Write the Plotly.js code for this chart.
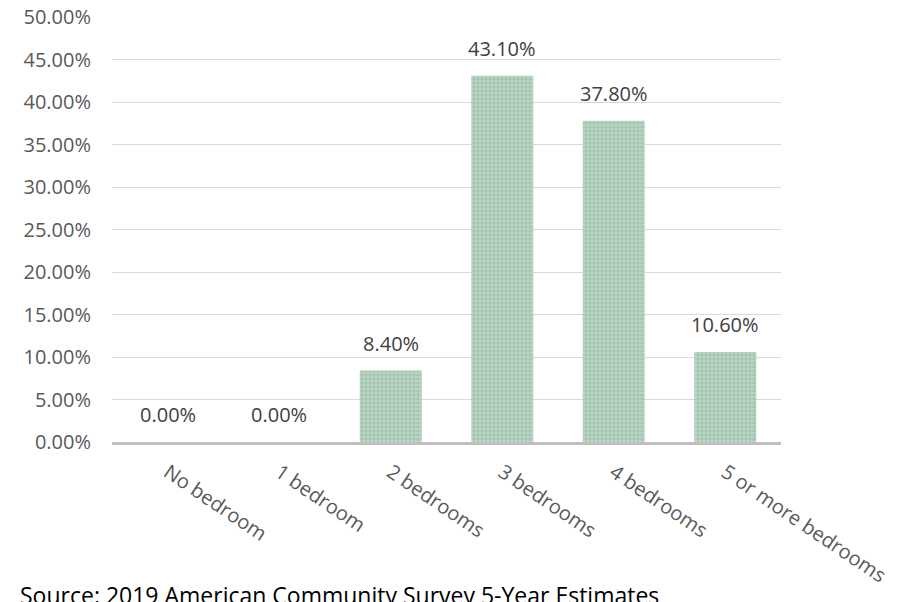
<!DOCTYPE html>
<html><head><meta charset="utf-8">
<script src="https://cdn.plot.ly/plotly-3.0.1.min.js"></script>
<style>html,body{margin:0;padding:0;background:#fff;}#chart{width:917px;height:602px;}</style>
</head><body><div id="chart"></div>
<script>
const categories = ["No bedroom", "1 bedroom", "2 bedrooms", "3 bedrooms", "4 bedrooms", "5 or more bedrooms"];
const shares = [0.0, 0.0, 8.4, 43.1, 37.8, 10.6];
const labels = ["0.00%", "0.00%", "8.40%", "43.10%", "37.80%", "10.60%"];
const yTicks = [0, 5, 10, 15, 20, 25, 30, 35, 40, 45, 50];
const yTickText = yTicks.map(v => v.toFixed(2) + "%");
const source = "Source: 2019 American Community Survey 5-Year Estimates";

const FONT = "'Open Sans', sans-serif";
const ML = 112, MR = 136, MT = 17, MB = 160;
const PW = 917 - ML - MR, PH = 602 - MT - MB;

const trace = {
  type: "bar",
  x: categories,
  y: shares,
  marker: {
    color: "#b3d1bf",
    line: {width: 0},
    pattern: {shape: "+", fgcolor: "#97bca6", bgcolor: "#bcd7c6", size: 4, solidity: 0.35}
  },
  hoverinfo: "skip"
};

const annotations = categories.map((c, i) => ({
  x: c, y: shares[i], xref: "x", yref: "y",
  text: labels[i], showarrow: false,
  yanchor: "bottom", yshift: 12,
  font: {family: FONT, size: 20, color: "#404040"}
}));
annotations.push({
  x: (18 - ML) / PW, xref: "paper", xanchor: "left",
  y: -(577 - (MT + PH)) / PH, yref: "paper", yanchor: "top",
  text: source, showarrow: false,
  font: {family: FONT, size: 23, color: "#000000"}
});

const layout = {
  width: 917, height: 602,
  paper_bgcolor: "#ffffff", plot_bgcolor: "#ffffff",
  margin: {l: ML, r: MR, t: MT, b: MB},
  showlegend: false,
  bargap: 0.444,
  font: {family: FONT, size: 20, color: "#595959"},
  xaxis: {
    type: "category",
    tickangle: 34,
    showgrid: false,
    showline: true, linecolor: "#bfbfbf", linewidth: 3,
    ticks: "",
    ticklabelstandoff: 8,
    tickfont: {family: FONT, size: 20, color: "#595959"},
    automargin: false
  },
  yaxis: {
    range: [0, 50],
    tickvals: yTicks,
    ticktext: yTickText,
    showgrid: true, gridcolor: "#d9d9d9", gridwidth: 1,
    zeroline: false,
    showline: false,
    ticks: "",
    ticklabelstandoff: 20,
    tickfont: {family: FONT, size: 20, color: "#595959"},
    automargin: false
  },
  annotations: annotations
};

Plotly.newPlot("chart", [trace], layout, {displayModeBar: false, staticPlot: true});
</script></body></html>
